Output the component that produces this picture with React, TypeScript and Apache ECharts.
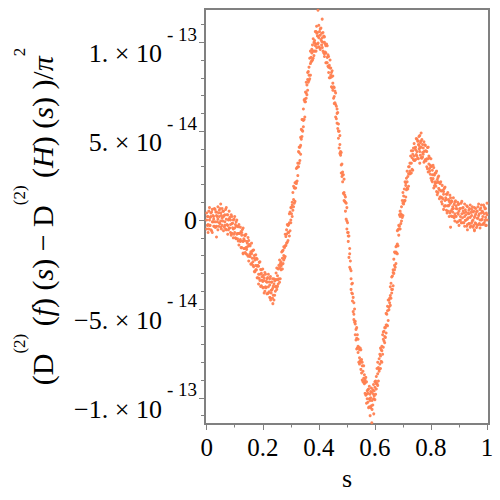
import React, { useEffect, useRef } from "react";
import * as echarts from "echarts";

// sample positions along s
const sSamples = [
  0.000, 0.005, 0.010, 0.015, 0.020, 0.025, 0.030, 0.035, 0.040, 0.045,
  0.050, 0.055, 0.060, 0.065, 0.070, 0.075, 0.080, 0.085, 0.090, 0.095,
  0.100, 0.105, 0.110, 0.115, 0.120, 0.125, 0.130, 0.135, 0.140, 0.145,
  0.150, 0.155, 0.160, 0.165, 0.170, 0.175, 0.180, 0.185, 0.190, 0.195,
  0.200, 0.205, 0.210, 0.215, 0.220, 0.225, 0.230, 0.235, 0.240, 0.245,
  0.250, 0.255, 0.260, 0.265, 0.270, 0.275, 0.280, 0.285, 0.290, 0.295,
  0.300, 0.305, 0.310, 0.315, 0.320, 0.325, 0.330, 0.335, 0.340, 0.345,
  0.350, 0.355, 0.360, 0.365, 0.370, 0.375, 0.380, 0.385, 0.390, 0.395,
  0.400, 0.405, 0.410, 0.415, 0.420, 0.425, 0.430, 0.435, 0.440, 0.445,
  0.450, 0.455, 0.460, 0.465, 0.470, 0.475, 0.480, 0.485, 0.490, 0.495,
  0.500, 0.505, 0.510, 0.515, 0.520, 0.525, 0.530, 0.535, 0.540, 0.545,
  0.550, 0.555, 0.560, 0.565, 0.570, 0.575, 0.580, 0.585, 0.590, 0.595,
  0.600, 0.605, 0.610, 0.615, 0.620, 0.625, 0.630, 0.635, 0.640, 0.645,
  0.650, 0.655, 0.660, 0.665, 0.670, 0.675, 0.680, 0.685, 0.690, 0.695,
  0.700, 0.705, 0.710, 0.715, 0.720, 0.725, 0.730, 0.735, 0.740, 0.745,
  0.750, 0.755, 0.760, 0.765, 0.770, 0.775, 0.780, 0.785, 0.790, 0.795,
  0.800, 0.805, 0.810, 0.815, 0.820, 0.825, 0.830, 0.835, 0.840, 0.845,
  0.850, 0.855, 0.860, 0.865, 0.870, 0.875, 0.880, 0.885, 0.890, 0.895,
  0.900, 0.905, 0.910, 0.915, 0.920, 0.925, 0.930, 0.935, 0.940, 0.945,
  0.950, 0.955, 0.960, 0.965, 0.970, 0.975, 0.980, 0.985, 0.990, 0.995,
  1.000,
];

// values in units of 1e-14: upper, middle and lower parts of the dot cloud
const cloudUpper = [
  0.4, 0.2, 0.7, 0.4, 0.6, 0.2, 0.6, 0.45, 0.75, 0.55,
  0.4, 0.65, 0.5, 0.3, 0.7, 0.3, 0.5, 0.0, 0.2, 0.0,
  0.2, -0.1, -0.35, -0.25, -0.4, -0.7, -0.45, -0.85, -0.8, -1.3,
  -1.15, -1.45, -1.3, -1.7, -2.0, -1.95, -2.2, -2.6, -2.35, -2.8,
  -2.75, -3.25, -3.05, -3.3, -3.05, -3.3, -3.5, -3.3, -3.3, -3.35,
  -2.7, -2.75, -2.25, -2.35, -1.75, -1.5, -0.8, -0.55, -0.3, 0.35,
  0.7, 1.0, 1.9, 2.1, 2.9, 3.2, 4.1, 4.65, 5.65, 6.25,
  6.8, 7.75, 8.3, 8.6, 9.5, 9.6, 10.2, 10.1, 10.6, 10.55,
  10.95, 10.75, 10.5, 10.55, 10.3, 9.8, 9.8, 9.2, 9.0, 8.3,
  8.1, 7.45, 7.15, 6.25, 5.4, 4.75, 3.8, 2.7, 2.3, 1.3,
  0.7, -0.7, -1.6, -2.85, -3.55, -4.65, -5.7, -6.05, -6.7, -7.3,
  -7.3, -8.0, -8.2, -9.0, -9.1, -9.55, -9.35, -9.65, -9.7, -9.25,
  -9.1, -8.8, -8.0, -7.8, -7.2, -7.1, -6.3, -6.05, -5.25, -4.85,
  -4.5, -3.75, -3.2, -2.8, -1.8, -1.5, -0.6, -0.3, 0.5, 0.75,
  1.55, 1.75, 2.1, 2.75, 3.0, 3.2, 3.9, 3.9, 4.3, 4.1,
  4.55, 4.45, 4.75, 4.45, 4.25, 4.4, 4.2, 3.85, 4.1, 3.5,
  3.45, 2.8, 2.95, 2.65, 2.75, 2.4, 2.1, 2.15, 1.95, 1.6,
  1.85, 1.45, 1.55, 1.05, 1.25, 1.05, 1.25, 1.0, 0.8, 1.0,
  0.9, 0.65, 1.05, 0.7, 0.9, 0.45, 0.75, 0.55, 0.85, 0.6,
  0.45, 0.7, 0.65, 0.5, 0.9, 0.6, 0.85, 0.45, 0.75, 0.65,
  0.95,
];

const cloudMiddle = [
  0.0, -0.25, 0.0, 0.2, -0.1, 0.05, -0.1, 0.25, 0.05, 0.2,
  -0.05, 0.1, 0.2, -0.1, 0.05, -0.3, 0.05, -0.25, -0.2, -0.5,
  -0.45, -0.35, -0.75, -0.75, -1.1, -0.85, -1.2, -1.15, -1.55, -1.5,
  -1.45, -1.9, -1.9, -2.35, -2.15, -2.55, -2.6, -3.05, -3.05, -3.0,
  -3.45, -3.4, -3.75, -3.5, -3.75, -3.65, -3.95, -3.85, -3.6, -3.75,
  -3.35, -3.35, -2.7, -2.6, -2.15, -2.0, -1.45, -0.8, -0.7, -0.15,
  0.0, 0.85, 1.15, 1.8, 2.15, 3.0, 3.8, 4.2, 5.05, 5.6,
  6.65, 7.15, 7.9, 8.15, 8.8, 9.4, 9.5, 9.95, 9.9, 10.35,
  10.25, 10.4, 10.05, 10.0, 10.0, 9.4, 9.15, 8.6, 8.55, 8.05,
  7.7, 6.95, 6.5, 6.0, 5.0, 4.25, 3.1, 2.55, 1.55, 1.0,
  -0.05, -0.9, -1.9, -3.3, -4.15, -5.3, -5.85, -6.65, -7.1, -7.75,
  -8.0, -8.2, -8.9, -9.15, -9.8, -9.75, -10.05, -10.0, -10.15, -9.8,
  -9.4, -9.2, -8.65, -8.4, -7.65, -7.35, -6.7, -6.55, -5.9, -5.1,
  -4.9, -4.25, -3.9, -2.95, -2.55, -1.8, -1.35, -0.5, 0.2, 0.3,
  0.95, 1.1, 1.95, 2.15, 2.6, 2.75, 3.2, 3.7, 3.6, 3.95,
  3.85, 4.25, 4.05, 4.1, 3.8, 3.85, 3.9, 3.45, 3.45, 2.9,
  3.0, 2.55, 2.55, 2.15, 2.1, 2.15, 1.7, 1.65, 1.25, 1.45,
  1.1, 1.15, 0.8, 0.85, 0.95, 0.6, 0.65, 0.35, 0.65, 0.4,
  0.5, 0.2, 0.35, 0.5, 0.2, 0.3, 0.05, 0.35, 0.15, 0.25,
  0.0, 0.15, 0.35, 0.1, 0.25, 0.0, 0.4, 0.2, 0.35, 0.15,
  0.3,
];

const cloudLower = [
  -0.5, -0.7, -0.3, -0.55, -0.7, -0.35, -0.4, -0.35, -0.55, -0.15,
  -0.4, -0.3, -0.6, -0.3, -0.55, -0.8, -0.45, -0.7, -0.75, -1.0,
  -0.7, -1.05, -1.05, -1.4, -1.2, -1.55, -1.85, -1.6, -1.9, -1.95,
  -2.3, -2.05, -2.45, -2.55, -2.9, -2.8, -3.25, -3.6, -3.4, -3.7,
  -3.8, -4.1, -3.8, -4.15, -4.1, -4.35, -4.1, -4.4, -4.5, -4.0,
  -3.9, -3.6, -3.5, -2.8, -2.75, -2.25, -2.05, -1.3, -1.15, -0.9,
  -0.15, 0.2, 0.75, 1.05, 2.05, 2.5, 3.2, 3.7, 4.7, 5.25,
  5.8, 6.85, 7.3, 7.85, 8.15, 8.95, 9.1, 9.5, 9.5, 9.9,
  9.75, 9.6, 9.85, 9.5, 9.35, 8.85, 8.85, 8.3, 8.0, 7.5,
  7.3, 6.55, 5.8, 5.45, 4.6, 3.75, 2.65, 2.15, 1.1, 0.5,
  -0.5, -1.2, -2.65, -3.9, -4.55, -5.6, -6.45, -7.25, -7.45, -8.1,
  -8.4, -9.0, -9.1, -9.75, -10.3, -10.25, -10.5, -10.55, -10.65, -10.05,
  -10.1, -9.5, -9.3, -8.5, -8.35, -8.0, -7.15, -6.9, -6.35, -5.95,
  -5.05, -4.8, -4.1, -3.7, -2.8, -2.45, -1.9, -0.85, -0.5, -0.05,
  0.25, 1.05, 1.3, 1.8, 1.9, 2.6, 2.65, 2.8, 3.35, 3.4,
  3.6, 3.45, 3.85, 3.5, 3.55, 3.25, 3.4, 3.0, 2.7, 2.75,
  2.35, 2.15, 1.8, 2.05, 1.6, 1.55, 1.2, 1.3, 0.9, 0.6,
  0.8, 0.55, 0.5, 0.2, 0.5, 0.2, 0.2, -0.05, 0.2, -0.1,
  -0.3, 0.0, -0.15, -0.15, -0.35, 0.0, -0.25, -0.2, -0.4, -0.15,
  -0.4, -0.55, -0.2, -0.3, -0.25, -0.45, 0.0, -0.25, -0.15, -0.3,
  0.0,
];

// second set of sample positions, between the first ones
const sSamplesB = [
  0.0025, 0.0075, 0.0125, 0.0175, 0.0225, 0.0275, 0.0325, 0.0375, 0.0425, 0.0475,
  0.0525, 0.0575, 0.0625, 0.0675, 0.0725, 0.0775, 0.0825, 0.0875, 0.0925, 0.0975,
  0.1025, 0.1075, 0.1125, 0.1175, 0.1225, 0.1275, 0.1325, 0.1375, 0.1425, 0.1475,
  0.1525, 0.1575, 0.1625, 0.1675, 0.1725, 0.1775, 0.1825, 0.1875, 0.1925, 0.1975,
  0.2025, 0.2075, 0.2125, 0.2175, 0.2225, 0.2275, 0.2325, 0.2375, 0.2425, 0.2475,
  0.2525, 0.2575, 0.2625, 0.2675, 0.2725, 0.2775, 0.2825, 0.2875, 0.2925, 0.2975,
  0.3025, 0.3075, 0.3125, 0.3175, 0.3225, 0.3275, 0.3325, 0.3375, 0.3425, 0.3475,
  0.3525, 0.3575, 0.3625, 0.3675, 0.3725, 0.3775, 0.3825, 0.3875, 0.3925, 0.3975,
  0.4025, 0.4075, 0.4125, 0.4175, 0.4225, 0.4275, 0.4325, 0.4375, 0.4425, 0.4475,
  0.4525, 0.4575, 0.4625, 0.4675, 0.4725, 0.4775, 0.4825, 0.4875, 0.4925, 0.4975,
  0.5025, 0.5075, 0.5125, 0.5175, 0.5225, 0.5275, 0.5325, 0.5375, 0.5425, 0.5475,
  0.5525, 0.5575, 0.5625, 0.5675, 0.5725, 0.5775, 0.5825, 0.5875, 0.5925, 0.5975,
  0.6025, 0.6075, 0.6125, 0.6175, 0.6225, 0.6275, 0.6325, 0.6375, 0.6425, 0.6475,
  0.6525, 0.6575, 0.6625, 0.6675, 0.6725, 0.6775, 0.6825, 0.6875, 0.6925, 0.6975,
  0.7025, 0.7075, 0.7125, 0.7175, 0.7225, 0.7275, 0.7325, 0.7375, 0.7425, 0.7475,
  0.7525, 0.7575, 0.7625, 0.7675, 0.7725, 0.7775, 0.7825, 0.7875, 0.7925, 0.7975,
  0.8025, 0.8075, 0.8125, 0.8175, 0.8225, 0.8275, 0.8325, 0.8375, 0.8425, 0.8475,
  0.8525, 0.8575, 0.8625, 0.8675, 0.8725, 0.8775, 0.8825, 0.8875, 0.8925, 0.8975,
  0.9025, 0.9075, 0.9125, 0.9175, 0.9225, 0.9275, 0.9325, 0.9375, 0.9425, 0.9475,
  0.9525, 0.9575, 0.9625, 0.9675, 0.9725, 0.9775, 0.9825, 0.9875, 0.9925, 0.9975,
];

const cloudUpperB = [
  0.2, 0.5, 0.15, 0.45, 0.25, 0.65, 0.45, 0.2, 0.4, 0.65,
  0.25, 0.5, 0.25, 0.6, 0.3, 0.0, 0.15, 0.3, -0.18, 0.05,
  -0.25, 0.0, -0.38, -0.75, -0.65, -0.53, -1.05, -0.88, -1.2, -0.98,
  -1.38, -1.78, -1.75, -1.68, -2.25, -2.15, -2.55, -2.38, -2.78, -3.18,
  -3.1, -2.95, -3.45, -3.23, -3.48, -3.18, -3.48, -3.73, -3.43, -2.98,
  -3.13, -2.55, -2.45, -1.8, -1.7, -1.55, -0.93, -0.25, -0.25, 0.45,
  0.7, 1.55, 1.8, 2.1, 2.95, 3.85, 4.1, 5.1, 5.65, 6.75,
  7.2, 7.6, 8.35, 9.1, 9.15, 9.85, 10.0, 10.6, 10.5, 10.35,
  10.6, 10.8, 10.25, 10.35, 9.9, 9.9, 9.3, 8.7, 8.55, 8.4,
  7.5, 7.25, 6.4, 6.05, 5.0, 3.85, 3.15, 2.55, 1.4, 0.95,
  -0.15, -0.9, -2.3, -3.6, -4.35, -5.0, -6.15, -6.45, -7.15, -7.2,
  -7.85, -8.5, -8.7, -8.85, -9.6, -9.5, -9.8, -9.45, -9.55, -9.6,
  -9.05, -8.35, -8.3, -7.55, -7.3, -6.45, -6.25, -6.05, -5.3, -4.5,
  -4.4, -3.55, -3.15, -2.2, -1.85, -1.45, -0.55, 0.3, 0.35, 1.1,
  1.35, 2.15, 2.35, 2.45, 3.0, 3.6, 3.5, 4.05, 4.05, 4.58,
  4.43, 4.2, 4.35, 4.53, 4.05, 4.23, 3.88, 4.08, 3.6, 3.08,
  3.03, 3.08, 2.53, 2.65, 2.28, 2.48, 2.05, 1.63, 1.68, 1.78,
  1.25, 1.45, 1.15, 1.4, 1.08, 0.75, 0.88, 1.08, 0.63, 0.88,
  0.63, 0.95, 0.68, 0.4, 0.58, 0.8, 0.38, 0.65, 0.43, 0.75,
  0.5, 0.25, 0.48, 0.75, 0.35, 0.68, 0.5, 0.85, 0.63, 0.4,
];

const cloudLowerB = [
  -0.3, -0.5, -0.3, -0.6, -0.1, -0.35, -0.4, -0.1, -0.35, -0.2,
  -0.5, -0.05, -0.4, -0.5, -0.25, -0.55, -0.45, -0.85, -0.43, -0.8,
  -1.0, -0.8, -1.18, -1.15, -1.55, -1.18, -1.6, -1.83, -1.65, -2.03,
  -2.03, -2.48, -2.15, -2.63, -2.9, -2.8, -3.25, -3.28, -3.73, -3.38,
  -3.8, -4.0, -3.8, -4.13, -4.03, -4.38, -3.93, -4.23, -4.23, -3.73,
  -3.73, -3.3, -3.3, -2.5, -2.45, -2.15, -1.43, -1.25, -0.7, -0.6,
  0.35, 0.55, 0.95, 1.8, 2.2, 3.0, 3.35, 4.55, 5.0, 5.65,
  6.65, 7.05, 7.75, 7.95, 8.9, 9.0, 9.25, 9.8, 9.7, 9.95,
  9.7, 10.15, 9.7, 9.4, 9.45, 8.85, 8.65, 8.0, 8.15, 7.45,
  6.85, 6.6, 5.7, 5.15, 4.05, 3.65, 2.45, 1.5, 1.05, 0.05,
  -0.7, -2.1, -2.75, -4.1, -5.15, -5.75, -6.75, -7.2, -8.0, -7.9,
  -8.6, -9.1, -9.2, -9.85, -10.05, -10.55, -10.15, -10.45, -10.4, -9.9,
  -9.8, -9.2, -9.05, -8.1, -7.95, -7.55, -6.8, -6.6, -5.9, -5.65,
  -4.65, -4.4, -3.9, -3.0, -2.65, -1.85, -1.45, -0.35, -0.2, 0.15,
  0.9, 1.1, 1.7, 1.75, 2.6, 2.65, 2.85, 3.4, 3.35, 3.68,
  3.48, 4.0, 3.65, 3.48, 3.7, 3.33, 3.33, 2.88, 3.15, 2.58,
  2.23, 2.33, 1.93, 1.9, 1.43, 1.78, 1.3, 1.03, 1.18, 0.78,
  0.8, 0.4, 0.8, 0.4, 0.23, 0.45, 0.13, 0.23, -0.12, 0.33,
  -0.02, -0.15, 0.13, -0.15, -0.02, -0.35, 0.13, -0.2, -0.32, -0.05,
  -0.3, -0.15, -0.42, 0.1, -0.2, -0.27, 0.05, -0.2, -0.02, -0.3,
];

// isolated dots outside the main band
const strayPoints = [
  [0.397, 11.8], [0.412, 11.3], [0.392, 10.9], [0.42, 9.2],
  [0.589, -11.4], [0.583, -11.0], [0.596, -10.9],
  [0.236, -4.7], [0.228, -4.5], [0.13, -1.9],
  [0.765, 4.9], [0.757, 4.7], [0.76, 3.2],
  [0.05, 0.9], [0.035, -0.95],
  [0.955, -0.6], [0.93, -0.55], [0.87, -0.4],
];

const xMajorTicks = [0, 0.2, 0.4, 0.6, 0.8, 1];
const xTickLabels = ["0", "0.2", "0.4", "0.6", "0.8", "1"];
const xMinorTicks = [0.1, 0.3, 0.5, 0.7, 0.9];

const yMajorTicks = [-10, -5, 0, 5, 10];
const yTickMantissas = ["\u22121.", "\u22125.", "0", "5.", "1."];
const yTickExponents = ["- 13", "- 14", "", "- 14", "- 13"];
const yMinorTicks = [-11, -9, -8, -7, -6, -4, -3, -2, -1, 1, 2, 3, 4, 6, 7, 8, 9, 11];

const SERIF = "'Liberation Serif', 'Times New Roman', serif";
const AXIS_GRAY = "#808080";

function findIndex(list: number[], v: number) {
  for (let i = 0; i < list.length; i++) if (Math.abs(list[i] - v) < 1e-9) return i;
  return -1;
}

export default function App() {
  const ref = useRef<HTMLDivElement>(null);

  useEffect(() => {
    if (!ref.current) return;
    const chart = echarts.init(ref.current, null, { renderer: "svg" });

    const points: number[][] = [];
    sSamples.forEach((s, i) => {
      points.push([s, cloudUpper[i]]);
      points.push([s, cloudMiddle[i]]);
      points.push([s, cloudLower[i]]);
    });
    sSamplesB.forEach((s, j) => {
      points.push([s, cloudUpperB[j]]);
      points.push([s, cloudLowerB[j]]);
    });
    strayPoints.forEach((p) => points.push(p));

    const xMin = -0.006;
    const xMax = 1.007;
    const yMin = -11.47;
    const yMax = 11.87;

    const yTitle =
      "{b|(D}{p|(2)}{b| (}{i|f}{b|) (}{i|s}{b|) \u2212 D}{p|(2)}{b| (}{i|H}{b|) (}{i|s}{b|) )/}{i|\u03c0}{p|2}";

    const hiddenLine = { show: false, onZero: false };

    const option: any = {
      animation: false,
      backgroundColor: "#ffffff",
      textStyle: { fontFamily: SERIF },
      grid: {
        left: 205,
        right: 11,
        top: 9,
        bottom: 76,
        show: true,
        borderColor: AXIS_GRAY,
        borderWidth: 2,
        backgroundColor: "transparent",
      },
      xAxis: [
        {
          type: "value",
          min: xMin,
          max: xMax,
          position: "bottom",
          axisLine: hiddenLine,
          splitLine: { show: false },
          axisTick: {
            show: true,
            customValues: xMajorTicks,
            length: 6,
            lineStyle: { color: AXIS_GRAY, width: 1 },
          },
          axisLabel: {
            show: true,
            customValues: xMajorTicks,
            margin: 11,
            formatter: (v: number) => {
              const k = findIndex(xMajorTicks, v);
              return k >= 0 ? xTickLabels[k] : "";
            },
            fontFamily: SERIF,
            fontSize: 25,
            color: "#000",
          },
          name: "s",
          nameLocation: "middle",
          nameGap: 41,
          nameTextStyle: { fontFamily: SERIF, fontSize: 26, color: "#000" },
        },
        {
          type: "value",
          min: xMin,
          max: xMax,
          position: "bottom",
          axisLine: hiddenLine,
          splitLine: { show: false },
          axisTick: {
            show: true,
            customValues: xMinorTicks,
            length: 3.5,
            lineStyle: { color: AXIS_GRAY, width: 1 },
          },
          axisLabel: { show: false },
        },
      ],
      yAxis: [
        {
          type: "value",
          min: yMin,
          max: yMax,
          position: "left",
          axisLine: hiddenLine,
          splitLine: { show: false },
          axisTick: {
            show: true,
            customValues: yMajorTicks,
            length: 6,
            lineStyle: { color: AXIS_GRAY, width: 1 },
          },
          axisLabel: {
            show: true,
            customValues: yMajorTicks,
            margin: 8,
            formatter: (v: number) => {
              const k = findIndex(yMajorTicks, v);
              if (k < 0) return "";
              if (yTickExponents[k] === "") return "{z|" + yTickMantissas[k] + "}";
              return "{m|" + yTickMantissas[k] + " \u00d7 10}{e|" + yTickExponents[k] + "}";
            },
            fontFamily: SERIF,
            color: "#000",
            rich: {
              z: { fontFamily: SERIF, fontSize: 26, color: "#000", height: 27 },
              m: {
                fontFamily: SERIF,
                fontSize: 26,
                color: "#000",
                height: 27,
                padding: [23, 0, 0, 0],
              },
              e: {
                fontFamily: SERIF,
                fontSize: 19,
                color: "#000",
                height: 20,
                padding: [7, 0, 0, 5],
                verticalAlign: "top",
              },
            },
          },
          name: yTitle,
          nameLocation: "middle",
          nameRotate: 90,
          nameGap: 147,
          nameTextStyle: {
            fontFamily: SERIF,
            color: "#000",
            rich: {
              b: { fontFamily: SERIF, fontSize: 30, color: "#000", height: 31, padding: [17, 0, 0, 0] },
              i: {
                fontFamily: SERIF,
                fontSize: 30,
                fontStyle: "italic",
                color: "#000",
                height: 31,
                padding: [17, 0, 0, 0],
              },
              p: { fontFamily: SERIF, fontSize: 17, color: "#000", height: 18, verticalAlign: "top" },
            },
          },
        },
        {
          type: "value",
          min: yMin,
          max: yMax,
          position: "left",
          axisLine: hiddenLine,
          splitLine: { show: false },
          axisTick: {
            show: true,
            customValues: yMinorTicks,
            length: 4,
            lineStyle: { color: AXIS_GRAY, width: 1 },
          },
          axisLabel: { show: false },
        },
      ],
      series: [
        {
          type: "scatter",
          xAxisIndex: 0,
          yAxisIndex: 0,
          data: points,
          symbol: "circle",
          symbolSize: 3,
          itemStyle: { color: "#FF7F50", opacity: 0.95 },
          silent: true,
        },
      ],
    };

    chart.setOption(option);
    return () => chart.dispose();
  }, []);

  return (
    <div
      ref={ref}
      style={{ position: "absolute", left: 0, top: 0, width: 500, height: 500 }}
    />
  );
}
